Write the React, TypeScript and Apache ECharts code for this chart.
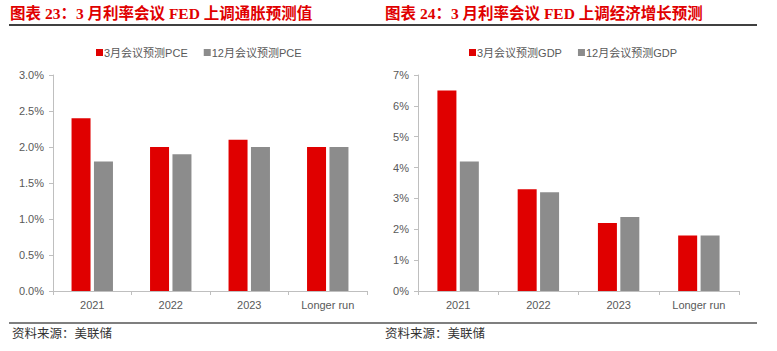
import React, { useEffect, useRef } from "react";
import * as echarts from "echarts";

const categories = ["2021", "2022", "2023", "Longer run"];
const pceMarch = [2.4, 2.0, 2.1, 2.0];
const pceDec = [1.8, 1.9, 2.0, 2.0];
const gdpMarch = [6.5, 3.3, 2.2, 1.8];
const gdpDec = [4.2, 3.2, 2.4, 1.8];
const pceTicks = { min: 0, max: 3, interval: 0.5 };
const gdpTicks = { min: 0, max: 7, interval: 1 };
const titleLeft = "图表 23：3 月利率会议 FED 上调通胀预测值";
const titleRight = "图表 24：3 月利率会议 FED 上调经济增长预测";
const source = "资料来源：美联储";
const seriesNames = ["3月会议预测PCE", "12月会议预测PCE", "3月会议预测GDP", "12月会议预测GDP"];

const RED = "#E00000";
const GRAY = "#8C8C8C";
const LABEL = "#595959";
const AXIS = "#BFBFBF";
const SANS = "'Liberation Sans', Arial, 'Noto Sans CJK SC', sans-serif";
const SERIF = "'Liberation Serif', 'Noto Sans CJK SC', serif";

export default function App() {
  const ref = useRef<HTMLDivElement>(null);
  useEffect(() => {
    if (!ref.current) return;
    const chart = echarts.init(ref.current, undefined, { renderer: "svg" });
    const xAxisBase = (gridIndex: number) => ({
      type: "category",
      gridIndex,
      data: categories,
      axisLine: { lineStyle: { color: AXIS, width: 1 } },
      axisTick: { show: true, alignWithLabel: false, length: 4, lineStyle: { color: AXIS } },
      axisLabel: { color: LABEL, fontSize: 11, fontFamily: SANS, margin: 8 },
    });
    const yAxisBase = (gridIndex: number, t: any, fmt: (v: number) => string) => ({
      type: "value",
      gridIndex,
      min: t.min,
      max: t.max,
      interval: t.interval,
      axisLine: { show: true, lineStyle: { color: AXIS, width: 1 } },
      axisTick: { show: true, length: 4, lineStyle: { color: AXIS } },
      splitLine: { show: false },
      axisLabel: { color: LABEL, fontSize: 11, fontFamily: SANS, margin: 9, formatter: fmt },
    });
    const barBase = { type: "bar", barWidth: 19, barGap: "18%" };
    const legendBase = {
      itemWidth: 7,
      itemHeight: 7,
      itemGap: 16,
      icon: "rect",
      top: 42,
      textStyle: { color: LABEL, fontSize: 11, fontFamily: SANS, padding: [0, 0, 0, -4] },
    };
    chart.setOption({
      animation: false,
      backgroundColor: "#fff",
      grid: [
        { left: 53, top: 75, width: 314, height: 216 },
        { left: 418, top: 75, width: 321, height: 216 },
      ],
      xAxis: [xAxisBase(0), xAxisBase(1)],
      yAxis: [
        yAxisBase(0, pceTicks, (v: number) => v.toFixed(1) + "%"),
        yAxisBase(1, gdpTicks, (v: number) => v.toFixed(0) + "%"),
      ],
      legend: [
        { ...legendBase, data: [seriesNames[0], seriesNames[1]], left: 91 },
        { ...legendBase, data: [seriesNames[2], seriesNames[3]], left: 464 },
      ],
      series: [
        { ...barBase, name: seriesNames[0], xAxisIndex: 0, yAxisIndex: 0, data: pceMarch, itemStyle: { color: RED } },
        { ...barBase, name: seriesNames[1], xAxisIndex: 0, yAxisIndex: 0, data: pceDec, itemStyle: { color: GRAY } },
        { ...barBase, name: seriesNames[2], xAxisIndex: 1, yAxisIndex: 1, data: gdpMarch, itemStyle: { color: RED } },
        { ...barBase, name: seriesNames[3], xAxisIndex: 1, yAxisIndex: 1, data: gdpDec, itemStyle: { color: GRAY } },
      ],
      graphic: [
        {
          type: "text",
          left: 10,
          top: 6,
          style: { text: titleLeft, fill: RED, font: `bold 15.5px ${SERIF}` },
        },
        {
          type: "text",
          left: 385,
          top: 6,
          style: { text: titleRight, fill: RED, font: `bold 15.5px ${SERIF}` },
        },
        {
          type: "line",
          shape: { x1: 9, y1: 25, x2: 757, y2: 25 },
          style: { stroke: "#000", lineWidth: 1.5 },
        },
        {
          type: "line",
          shape: { x1: 9, y1: 323, x2: 757, y2: 323 },
          style: { stroke: "#000", lineWidth: 1.2 },
        },
        {
          type: "text",
          left: 12,
          top: 328,
          style: { text: source, fill: "#333", font: `12.5px ${SERIF}` },
        },
        {
          type: "text",
          left: 385,
          top: 328,
          style: { text: source, fill: "#333", font: `12.5px ${SERIF}` },
        },
      ],
    });
    return () => chart.dispose();
  }, []);
  return (
    <div
      ref={ref}
      style={{ position: "fixed", left: 0, top: 0, width: 777, height: 351, background: "#fff" }}
    />
  );
}
